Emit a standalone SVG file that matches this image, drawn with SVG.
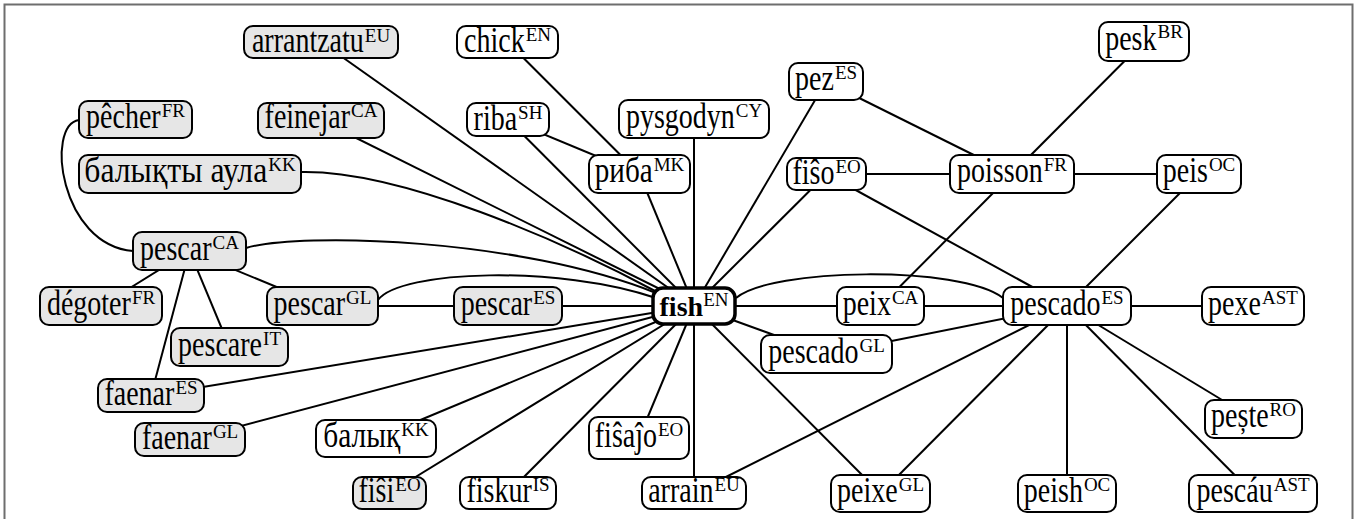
<svg xmlns="http://www.w3.org/2000/svg" width="1357" height="519" viewBox="0 0 1357 519">
<style>
.n rect{fill:#fff;stroke:#000;stroke-width:2}
.g rect{fill:#e6e6e6}
text{font-family:'Liberation Serif','Times New Roman',Times,'DejaVu Serif',serif;fill:#000;font-size:28px}
text.s,tspan.s{font-size:19px}
#fish rect{stroke-width:3.5}
#fish text{text-anchor:middle}
#fish tspan.b{font-weight:bold}
.e line,.e path{stroke:#000;stroke-width:2;fill:none}
</style>
<rect x="4.5" y="4.5" width="1348" height="530" fill="#fff" stroke="#6e6e6e" stroke-width="2"/>
<g class="e" id="connectors">
<line x1="321" y1="42" x2="694" y2="306"/>
<line x1="507.5" y1="42" x2="639.5" y2="174"/>
<line x1="508" y1="119.5" x2="639.5" y2="174"/>
<line x1="508" y1="119.5" x2="694" y2="306"/>
<line x1="321" y1="120.5" x2="694" y2="306"/>
<line x1="694" y1="119" x2="694" y2="306"/>
<line x1="639.5" y1="174" x2="694" y2="306"/>
<line x1="826" y1="81.5" x2="694" y2="306"/>
<line x1="826.5" y1="174" x2="694" y2="306"/>
<line x1="826" y1="81.5" x2="1012" y2="174"/>
<line x1="1144" y1="41.5" x2="1012" y2="174"/>
<line x1="826.5" y1="174" x2="1012" y2="174"/>
<line x1="1012" y1="174" x2="1199" y2="174"/>
<line x1="826.5" y1="174" x2="1067" y2="306"/>
<line x1="1012" y1="174" x2="880.5" y2="306"/>
<line x1="1199" y1="174" x2="1067" y2="306"/>
<line x1="694" y1="306" x2="1067" y2="306"/>
<line x1="1067" y1="306" x2="1253" y2="306"/>
<line x1="694" y1="306" x2="826.5" y2="354"/>
<line x1="826.5" y1="354" x2="1067" y2="306"/>
<line x1="694" y1="306" x2="880.5" y2="493.5"/>
<line x1="1067" y1="306" x2="694" y2="493"/>
<line x1="1067" y1="306" x2="880.5" y2="493.5"/>
<line x1="1067" y1="306" x2="1067" y2="493.5"/>
<line x1="1067" y1="306" x2="1253" y2="493.5"/>
<line x1="1067" y1="306" x2="1253.5" y2="419"/>
<line x1="694" y1="306" x2="694" y2="493"/>
<line x1="694" y1="306" x2="639" y2="438"/>
<line x1="694" y1="306" x2="508" y2="493"/>
<line x1="694" y1="306" x2="389.5" y2="493"/>
<line x1="694" y1="306" x2="376" y2="438.5"/>
<line x1="694" y1="306" x2="190" y2="439.5"/>
<line x1="694" y1="306" x2="151" y2="395.5"/>
<line x1="189.5" y1="251" x2="151" y2="395.5"/>
<line x1="189.5" y1="251" x2="229.5" y2="347"/>
<line x1="189.5" y1="251" x2="101" y2="306"/>
<line x1="189.5" y1="251" x2="322.5" y2="306"/>
<line x1="322.5" y1="306" x2="694" y2="306"/>
<path d="M246,248 C300,232 520,238 656,293"/>
<path d="M378,300 C400,270 560,265 656,298"/>
<path d="M301,172 C400,170 560,240 657,292"/>
<path d="M736,298 C770,268 960,265 1003,298"/>
<path d="M79,120 C45,125 60,245 133,251"/>
</g>
<g class="n g" id="arrantzatu"><rect x="244" y="26" width="154" height="32" rx="9"/><text x="251.9" transform="matrix(1 0 0 1.286 0 52)">arrantzatu</text><text class="s" x="364.8" y="42">EU</text></g>
<g class="n" id="chick"><rect x="457" y="26" width="101" height="32" rx="9"/><text x="464.1" transform="matrix(1 0 0 1.286 0 52)">chick</text><text class="s" x="525.7" y="41">EN</text></g>
<g class="n g" id="pecher"><rect x="79" y="101" width="113" height="37" rx="9"/><text x="86.1" transform="matrix(1 0 0 1.286 0 128)">pêcher</text><text class="s" x="161.7" y="117">FR</text></g>
<g class="n g" id="feinejar"><rect x="258" y="103" width="126" height="35" rx="9"/><text x="264.6" transform="matrix(1 0 0 1.286 0 128)">feinejar</text><text class="s" x="351.1" y="117">CA</text></g>
<g class="n" id="riba-sh"><rect x="467" y="103" width="82" height="33" rx="9"/><text x="473.6" transform="matrix(1 0 0 1.286 0 130)">riba</text><text class="s" x="518.1" y="119">SH</text></g>
<g class="n" id="pysgodyn"><rect x="619" y="100" width="150" height="38" rx="9"/><text x="625.9" transform="matrix(1 0 0 1.286 0 128)">pysgodyn</text><text class="s" x="735.8" y="117">CY</text></g>
<g class="n" id="pez"><rect x="789" y="63" width="74" height="37" rx="9"/><text x="795" transform="matrix(1 0 0 1.286 0 90)">pez</text><text class="s" x="834.9" y="79">ES</text></g>
<g class="n" id="pesk"><rect x="1099" y="22" width="90" height="39" rx="9"/><text x="1105.2" transform="matrix(1 0 0 1.286 0 50)">pesk</text><text class="s" x="1157.5" y="38">BR</text></g>
<g class="n g" id="balykty-aula"><rect x="79" y="155" width="222" height="38" rx="9"/><text x="84.3" transform="matrix(1 0 0 1.286 0 182)" textLength="183" lengthAdjust="spacingAndGlyphs">балықты аула</text><text class="s" x="268.3" y="171">KK</text></g>
<g class="n" id="riba-mk"><rect x="589" y="155" width="101" height="38" rx="9"/><text x="594.7" transform="matrix(1 0 0 1.286 0 182)" textLength="58" lengthAdjust="spacingAndGlyphs">риба</text><text class="s" x="653.7" y="171">MK</text></g>
<g class="n" id="fiso"><rect x="787" y="158" width="79" height="32" rx="9"/><text x="792.4" transform="matrix(1 0 0 1.286 0 184)">fiŝo</text><text class="s" x="835.4" y="173">EO</text></g>
<g class="n" id="poisson"><rect x="950" y="155" width="124" height="38" rx="9"/><text x="957.1" transform="matrix(1 0 0 1.286 0 182)">poisson</text><text class="s" x="1043.7" y="171">FR</text></g>
<g class="n" id="peis"><rect x="1157" y="155" width="84" height="38" rx="9"/><text x="1162.8" transform="matrix(1 0 0 1.286 0 182)">peis</text><text class="s" x="1208.9" y="171">OC</text></g>
<g class="n g" id="pescar-ca"><rect x="133" y="232" width="113" height="38" rx="9"/><text x="140" transform="matrix(1 0 0 1.286 0 260)">pescar</text><text class="s" x="212.5" y="249">CA</text></g>
<g class="n g" id="degoter"><rect x="40" y="287" width="122" height="38" rx="9"/><text x="46.9" transform="matrix(1 0 0 1.286 0 315)">dégoter</text><text class="s" x="131.9" y="304">FR</text></g>
<g class="n g" id="pescar-gl"><rect x="267" y="287" width="111" height="38" rx="9"/><text x="273.6" transform="matrix(1 0 0 1.286 0 315)">pescar</text><text class="s" x="346.1" y="304">GL</text></g>
<g class="n g" id="pescar-es"><rect x="454" y="287" width="108" height="38" rx="9"/><text x="460.7" transform="matrix(1 0 0 1.286 0 315)">pescar</text><text class="s" x="533.2" y="304">ES</text></g>
<g class="n" id="fish"><rect x="653" y="288" width="82" height="36" rx="10"/><text x="694" y="316"><tspan class="b">fish</tspan><tspan class="s" dy="-10">EN</tspan></text></g>
<g class="n" id="peix-ca"><rect x="837" y="287" width="87" height="38" rx="9"/><text x="842.7" transform="matrix(1 0 0 1.286 0 315)">peix</text><text class="s" x="891.9" y="304">CA</text></g>
<g class="n" id="pescado-es"><rect x="1003" y="287" width="128" height="38" rx="9"/><text x="1010.3" transform="matrix(1 0 0 1.286 0 315)">pescado</text><text class="s" x="1101.5" y="304">ES</text></g>
<g class="n" id="pexe"><rect x="1202" y="287" width="102" height="38" rx="9"/><text x="1208.1" transform="matrix(1 0 0 1.286 0 315)">pexe</text><text class="s" x="1262" y="304">AST</text></g>
<g class="n g" id="pescare"><rect x="171" y="328" width="117" height="38" rx="9"/><text x="178.1" transform="matrix(1 0 0 1.286 0 356)">pescare</text><text class="s" x="263.1" y="345">IT</text></g>
<g class="n" id="pescado-gl"><rect x="761" y="335" width="131" height="38" rx="9"/><text x="768.3" transform="matrix(1 0 0 1.286 0 363)">pescado</text><text class="s" x="859.5" y="352">GL</text></g>
<g class="n g" id="faenar-es"><rect x="98" y="379" width="106" height="33" rx="9"/><text x="104.4" transform="matrix(1 0 0 1.286 0 405)">faenar</text><text class="s" x="175.4" y="394">ES</text></g>
<g class="n g" id="faenar-gl"><rect x="135" y="423" width="110" height="33" rx="9"/><text x="141.9" transform="matrix(1 0 0 1.286 0 449)">faenar</text><text class="s" x="212.9" y="438">GL</text></g>
<g class="n" id="balyk"><rect x="316" y="420" width="120" height="37" rx="9"/><text x="323.3" transform="matrix(1 0 0 1.286 0 447)" textLength="77" lengthAdjust="spacingAndGlyphs">балық</text><text class="s" x="401.3" y="436">KK</text></g>
<g class="n g" id="fisi"><rect x="353" y="477" width="73" height="32" rx="9"/><text x="358.5" transform="matrix(1 0 0 1.286 0 502)">fiŝi</text><text class="s" x="395.3" y="491">EO</text></g>
<g class="n" id="fiskur"><rect x="460" y="477" width="96" height="32" rx="9"/><text x="466.4" transform="matrix(1 0 0 1.286 0 502)">fiskur</text><text class="s" x="532.7" y="491">IS</text></g>
<g class="n" id="fisajo"><rect x="589" y="417" width="100" height="42" rx="9"/><text x="594.8" transform="matrix(1 0 0 1.286 0 447)">fiŝaĵo</text><text class="s" x="658" y="436">EO</text></g>
<g class="n" id="arrain"><rect x="642" y="477" width="104" height="32" rx="9"/><text x="648.2" transform="matrix(1 0 0 1.286 0 502)">arrain</text><text class="s" x="714.5" y="491">EU</text></g>
<g class="n" id="peixe"><rect x="831" y="475" width="99" height="37" rx="9"/><text x="837.1" transform="matrix(1 0 0 1.286 0 502)">peixe</text><text class="s" x="898.7" y="491">GL</text></g>
<g class="n" id="peish"><rect x="1018" y="475" width="98" height="37" rx="9"/><text x="1023.8" transform="matrix(1 0 0 1.286 0 502)">peish</text><text class="s" x="1083.9" y="491">OC</text></g>
<g class="n" id="peste"><rect x="1205" y="400" width="97" height="38" rx="9"/><text x="1211.1" transform="matrix(1 0 0 1.286 0 427)">pește</text><text class="s" x="1269.6" y="416">RO</text></g>
<g class="n" id="pescau"><rect x="1189" y="475" width="128" height="37" rx="9"/><text x="1196.5" transform="matrix(1 0 0 1.286 0 502)">pescáu</text><text class="s" x="1273.7" y="491">AST</text></g>
</svg>
